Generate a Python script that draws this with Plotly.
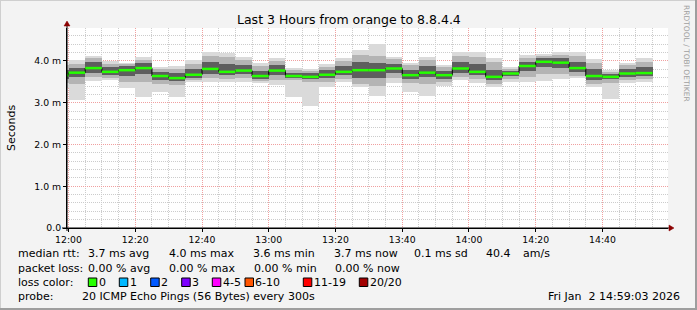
import pandas as pd
import plotly.graph_objects as go

# ---------------- data (ms) ----------------
bar_start = pd.date_range("2026-01-02 11:55:00", periods=36, freq="5min")

rtt_max = [3.98, 4.02, 4.13, 4.00, 3.96, 4.09, 3.85, 3.89, 4.02, 4.21, 4.18, 4.09,
           3.94, 4.08, 3.84, 3.81, 3.92, 4.07, 4.26, 4.41, 4.10, 3.96, 4.10, 3.90,
           4.22, 4.21, 4.06, 3.85, 4.14, 4.16, 4.21, 4.21, 4.04, 3.78, 3.96, 4.06]
rtt_p90 = [3.90, 3.93, 4.07, 3.93, 3.93, 4.02, 3.81, 3.81, 3.93, 4.12, 4.10, 4.02,
           3.88, 4.00, 3.78, 3.76, 3.86, 4.00, 4.14, 4.12, 4.05, 3.90, 4.02, 3.86,
           4.12, 4.10, 3.98, 3.81, 4.07, 4.12, 4.14, 4.12, 3.95, 3.74, 3.90, 3.98]
rtt_p70 = [3.78, 3.83, 3.98, 3.86, 3.88, 3.95, 3.74, 3.71, 3.81, 3.98, 3.93, 3.90,
           3.76, 3.90, 3.71, 3.71, 3.78, 3.88, 3.98, 3.95, 3.93, 3.78, 3.88, 3.76,
           3.98, 3.93, 3.78, 3.76, 3.98, 4.07, 4.07, 3.98, 3.81, 3.69, 3.81, 3.86]
rtt_med = [3.66, 3.72, 3.83, 3.74, 3.78, 3.83, 3.64, 3.59, 3.67, 3.81, 3.74, 3.77,
           3.64, 3.77, 3.64, 3.62, 3.67, 3.74, 3.78, 3.78, 3.82, 3.66, 3.72, 3.66,
           3.82, 3.74, 3.62, 3.70, 3.88, 3.98, 3.96, 3.83, 3.64, 3.62, 3.70, 3.71]
rtt_p30 = [3.57, 3.62, 3.71, 3.67, 3.64, 3.69, 3.55, 3.52, 3.59, 3.69, 3.67, 3.69,
           3.57, 3.67, 3.59, 3.57, 3.59, 3.67, 3.59, 3.59, 3.71, 3.57, 3.62, 3.57,
           3.71, 3.67, 3.55, 3.64, 3.77, 3.86, 3.83, 3.74, 3.55, 3.57, 3.62, 3.64]
rtt_p10 = [3.47, 3.45, 3.62, 3.59, 3.50, 3.50, 3.45, 3.43, 3.55, 3.59, 3.57, 3.59,
           3.52, 3.55, 3.55, 3.50, 3.50, 3.57, 3.45, 3.40, 3.59, 3.47, 3.45, 3.50,
           3.62, 3.57, 3.45, 3.57, 3.62, 3.69, 3.69, 3.64, 3.45, 3.47, 3.55, 3.57]
rtt_min = [3.35, 3.07, 3.52, 3.55, 3.36, 3.14, 3.26, 3.14, 3.50, 3.50, 3.50, 3.50,
           3.48, 3.43, 3.14, 2.92, 3.38, 3.50, 3.37, 3.17, 3.48, 3.26, 3.16, 3.41,
           3.55, 3.48, 3.37, 3.49, 3.50, 3.52, 3.57, 3.59, 3.37, 3.08, 3.48, 3.50]

y_tick_vals = [0, 1, 2, 3, 4]
y_tick_text = ["0.0", "1.0 m", "2.0 m", "3.0 m", "4.0 m"]

title_text = "Last 3 Hours from orange to 8.8.4.4"
row_rtt = ["median rtt:", "3.7 ms avg", "4.0 ms max", "3.6 ms min", "3.7 ms now", "0.1 ms sd", "40.4", "am/s"]
row_loss = ["packet loss:", "0.00 % avg", "0.00 % max", "0.00 % min", "0.00 % now"]
loss_labels = ["0", "1", "2", "3", "4-5", "6-10", "11-19", "20/20"]
loss_colors = ["#26ff00", "#00b8ff", "#0059ff", "#7e00ff", "#ff00ff", "#ff5500", "#ff0000", "#a10000"]
probe_text = "20 ICMP Echo Pings (56 Bytes) every 300s"
date_text = "Fri Jan\u00a0\u00a02 14:59:03 2026"

# ---------------- geometry ----------------
W, H = 697, 310
PL, PR, PT, PB = 67, 668, 28, 228


def px(x):
    return (x - PL) / (PR - PL)


def py(y):
    return (PB - y) / (PB - PT)


FONT = "DejaVu Sans"
centers = bar_start + pd.Timedelta(minutes=2.5)
bar_end = bar_start + pd.Timedelta(minutes=5)
bar_w = 5 * 60 * 1000

fig = go.Figure()


def band(lo, hi, color):
    fig.add_trace(go.Bar(
        x=centers, y=[h - l for h, l in zip(hi, lo)], base=lo, width=bar_w,
        marker=dict(color=color, line=dict(width=0)), hoverinfo="skip", showlegend=False))


band(rtt_min, rtt_max, "#dadada")
band(rtt_p10, rtt_p90, "#b4b4b4")
band(rtt_p30, rtt_p70, "#5e5e5e")

# median step line (black) + green segments
step_x = list(bar_start) + [bar_end[-1]]
step_y = rtt_med + [rtt_med[-1]]
fig.add_trace(go.Scatter(x=step_x, y=step_y, mode="lines", line=dict(color="#000000", width=1, shape="hv"),
                         hoverinfo="skip", showlegend=False))
gx, gy = [], []
for s, e, m in zip(bar_start, bar_end, rtt_med):
    gx += [s, e, None]
    gy += [m, m, None]
fig.add_trace(go.Scatter(x=gx, y=gy, mode="lines", line=dict(color="#26ff00", width=2.5),
                         hoverinfo="skip", showlegend=False, connectgaps=False))

x0 = pd.Timestamp("2026-01-02 11:59:33")
x1 = pd.Timestamp("2026-01-02 14:59:38")

fig.update_layout(
    width=W, height=H,
    margin=dict(l=PL, r=W - PR, t=PT, b=H - PB, pad=0),
    paper_bgcolor="#f3f3f3", plot_bgcolor="#ffffff",
    barmode="overlay", bargap=0,
    font=dict(family=FONT, size=9.3, color="#000000"),
    xaxis=dict(
        type="date", range=[x0, x1], tickmode="linear", tick0="2026-01-02 12:00:00", dtick=1200000,
        tickformat="%H:%M", showgrid=True, gridcolor="#f0a0a0", griddash="1px,1px", gridwidth=1,
        minor=dict(dtick=300000, tick0="2026-01-02 12:00:00", showgrid=True, gridcolor="#cccccc",
                   griddash="1px,1px", gridwidth=1),
        showline=True, linecolor="#000000", linewidth=1, ticks="outside", ticklen=3, tickcolor="#000000",
        zeroline=False, fixedrange=True, tickfont=dict(size=9.3, family=FONT),
    ),
    yaxis=dict(
        range=[0, 4.79], tickvals=y_tick_vals, ticktext=y_tick_text, showgrid=True, gridcolor="#f0a0a0",
        griddash="1px,1px", gridwidth=1,
        minor=dict(dtick=0.2, showgrid=True, gridcolor="#cccccc", griddash="1px,1px", gridwidth=1),
        showline=True, linecolor="#000000", linewidth=1, ticks="outside", ticklen=3, tickcolor="#000000",
        zeroline=False, fixedrange=True, tickfont=dict(size=9.3, family=FONT),
    ),
)

ann = []


def text(x, y, s, size=11, xanchor="left", color="#000000", angle=0):
    ann.append(dict(x=px(x), y=py(y), xref="paper", yref="paper", text=s, showarrow=False,
                    xanchor=xanchor, yanchor="middle", textangle=angle, borderpad=0,
                    font=dict(family=FONT, size=size, color=color)))


text(348.7, 19, title_text, size=12.5, xanchor="center")
text(11, 128, "Seconds", size=11, xanchor="center", angle=-90)
text(687, 53, "RRDTOOL / TOBI OETIKER", size=7.5, xanchor="center", color="#a0a0a0", angle=90)

rtt_x = [16.7, 87, 168, 252, 333, 413, 485, 522]
for xx, s in zip(rtt_x, row_rtt):
    text(xx, 254, s)
loss_x = [16.7, 87, 168, 253, 334]
for xx, s in zip(loss_x, row_loss):
    text(xx, 268, s)
text(16.7, 282, "loss color:")
box_x = [88.3, 119.3, 150.7, 181.7, 212.3, 245, 303.3, 359.3]
shapes = []
for bx, lab, col in zip(box_x, loss_labels, loss_colors):
    shapes.append(dict(type="rect", xref="paper", yref="paper", x0=px(bx), x1=px(bx + 8.5),
                       y0=py(286.5), y1=py(278), fillcolor=col, line=dict(color="#000000", width=1)))
    text(bx + 9.3, 282, lab)
text(16.7, 296, "probe:")
text(80.7, 296, probe_text)
text(680.5, 296, date_text, xanchor="right")

# axis extensions and arrows
arrow_col = "#8b0000"
shapes.append(dict(type="line", xref="paper", yref="paper", x0=px(62), x1=px(672), y0=py(228), y1=py(228),
                   line=dict(color="#000000", width=1)))
shapes.append(dict(type="line", xref="paper", yref="paper", x0=px(67), x1=px(67), y0=py(231), y1=py(24),
                   line=dict(color="#000000", width=1)))
shapes.append(dict(type="path", xref="paper", yref="paper",
                   path=f"M {px(669)} {py(225)} L {px(674)} {py(228)} L {px(669)} {py(231)} Z",
                   fillcolor=arrow_col, line=dict(color=arrow_col, width=0.5)))
shapes.append(dict(type="path", xref="paper", yref="paper",
                   path=f"M {px(64)} {py(26)} L {px(67)} {py(21)} L {px(70)} {py(26)} Z",
                   fillcolor=arrow_col, line=dict(color=arrow_col, width=0.5)))
# frame shading
shapes.append(dict(type="line", xref="paper", yref="paper", x0=px(0), x1=px(697), y0=py(0.5), y1=py(0.5),
                   line=dict(color="#cfcfcf", width=1)))
shapes.append(dict(type="line", xref="paper", yref="paper", x0=px(0.5), x1=px(0.5), y0=py(0), y1=py(310),
                   line=dict(color="#cfcfcf", width=1)))
shapes.append(dict(type="line", xref="paper", yref="paper", x0=px(0), x1=px(697), y0=py(309), y1=py(309),
                   line=dict(color="#9e9e9e", width=2)))
shapes.append(dict(type="line", xref="paper", yref="paper", x0=px(696), x1=px(696), y0=py(0), y1=py(310),
                   line=dict(color="#9e9e9e", width=2)))

fig.update_layout(annotations=ann, shapes=shapes)
fig.write_html("out.html")
